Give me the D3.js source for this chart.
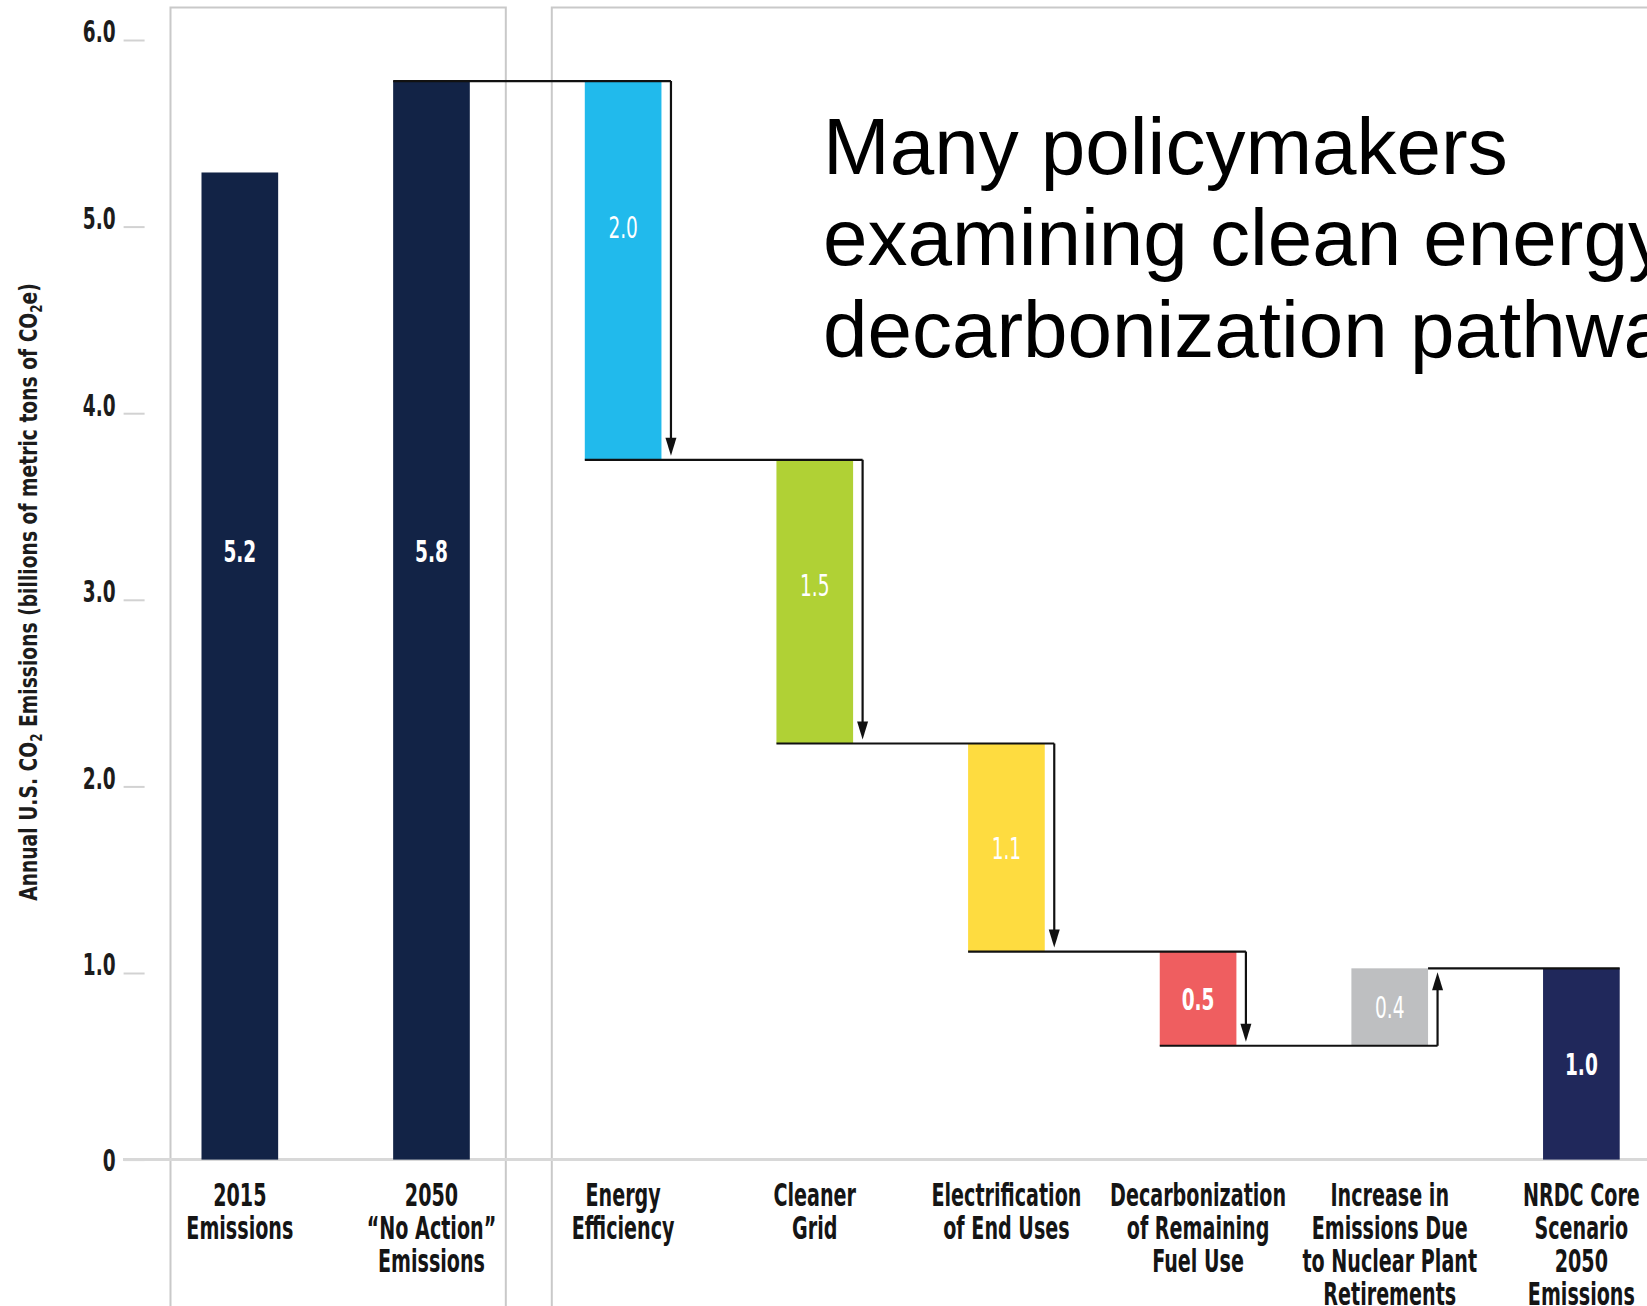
<!DOCTYPE html>
<html>
<head>
<meta charset="utf-8">
<script src="https://cdn.jsdelivr.net/npm/d3@7"></script>
<style>
  body { margin: 0; background: #fff; }
  svg { display: block; }
</style>
</head>
<body>
<svg id="chart"></svg>
<script>
// categories, one entry per bar, split into label lines
const categories = [
    ["2015", "Emissions"],
    ["2050", "\u201CNo Action\u201D", "Emissions"],
    ["Energy", "Efficiency"],
    ["Cleaner", "Grid"],
    ["Electrification", "of End Uses"],
    ["Decarbonization", "of Remaining", "Fuel Use"],
    ["Increase in", "Emissions Due", "to Nuclear Plant", "Retirements"],
    ["NRDC Core", "Scenario", "2050", "Emissions"]
];
// 2015 and 2050 "no action" totals (billions of metric tons)
const startTotals = [5.29, 5.78];
// waterfall steps starting from the 2050 total
const changes = [-2.03, -1.52, -1.115, -0.505, 0.415];
const valueLabels = ["5.2", "5.8", "2.0", "1.5", "1.1", "0.5", "0.4", "1.0"];
// where the value label sits (in data units), null = middle of the bar
const labelAt = [3.26, 3.26, 5.0, 3.08, null, null, null, null];
const yTicks = [0, 1, 2, 3, 4, 5, 6];
const yTickLabels = ["0", "1.0", "2.0", "3.0", "4.0", "5.0", "6.0"];
const noteLines = ["Many policymakers", "examining clean energy", "decarbonization pathways"];

const barColors = ["#122346", "#122346", "#21baec", "#b0d135", "#fedc40", "#ef5e60", "#bebfc1", "#20285b"];
const boldLabel = [true, true, false, false, false, true, false, true];

const width = 1647;
const height = 1306;
const condensed = "'Liberation Sans Narrow', 'DejaVu Sans Condensed', 'Liberation Sans', sans-serif";

const svg = d3.select("#chart")
    .attr("width", width)
    .attr("height", height);

// build the waterfall
const bars = [];
bars.push({i: 0, y0: 0, y1: startTotals[0]});
bars.push({i: 1, y0: 0, y1: startTotals[1]});
let level = startTotals[1];
changes.forEach((c, j) => {
    const next = level + c;
    bars.push({i: j + 2, y0: Math.min(level, next), y1: Math.max(level, next), from: level, to: next, step: true});
    level = next;
});
bars.push({i: 7, y0: 0, y1: level});

const x = d3.scaleBand()
    .domain(d3.range(categories.length))
    .range([144, 1677.2])
    .paddingInner(0.6)
    .paddingOuter(0.3);
const bw = x.bandwidth();

const y = d3.scaleLinear()
    .domain([0, 6])
    .range([1159.6, 40]);

// horizontal squeeze so the narrow font looks like the condensed gothic
const probe = svg.append("text")
    .attr("font-family", condensed)
    .attr("font-weight", "bold")
    .attr("font-size", 32)
    .text("Electrification");
const sx = 150 / probe.node().getComputedTextLength();
probe.remove();

// panels
svg.append("rect")
    .attr("x", x(0) - 31).attr("y", 7.5)
    .attr("width", x(1) + bw - x(0) + 67).attr("height", 1400)
    .attr("fill", "none").attr("stroke", "#c9c9c9").attr("stroke-width", 2);
svg.append("rect")
    .attr("x", x(2) - 33).attr("y", 7.5)
    .attr("width", x(7) + bw - x(2) + 66).attr("height", 1400)
    .attr("fill", "none").attr("stroke", "#c9c9c9").attr("stroke-width", 2);

// y axis
const yAxis = svg.append("g")
    .attr("transform", "translate(144.6,0)")
    .call(d3.axisLeft(y)
        .tickValues(yTicks)
        .tickFormat((d, i) => yTickLabels[i])
        .tickSize(21)
        .tickPadding(8));
yAxis.select(".domain").remove();
yAxis.selectAll(".tick line")
    .attr("stroke", "#d2d2d2")
    .attr("stroke-width", 2);
yAxis.selectAll(".tick text")
    .attr("font-family", condensed)
    .attr("font-weight", "bold")
    .attr("font-size", 31)
    .attr("fill", "#1c1c1c")
    .attr("transform", `scale(${sx},1)`)
    .attr("x", -29 / sx)
    .attr("dy", d => d === 0 ? "0.36em" : "0.06em");

// baseline
svg.append("line")
    .attr("x1", 123).attr("x2", width)
    .attr("y1", y(0)).attr("y2", y(0))
    .attr("stroke", "#d8d8d8")
    .attr("stroke-width", 3);

// y axis title
const yTitle = svg.append("text")
    .attr("font-family", condensed)
    .attr("font-weight", "bold")
    .attr("font-size", 25)
    .attr("fill", "#1c1c1c")
    .attr("text-anchor", "middle");
yTitle.append("tspan").text("Annual U.S. CO");
yTitle.append("tspan").attr("font-size", 16).attr("dy", 5).text("2");
yTitle.append("tspan").attr("dy", -5).text(" Emissions (billions of metric tons of CO");
yTitle.append("tspan").attr("font-size", 16).attr("dy", 5).text("2");
yTitle.append("tspan").attr("dy", -5).text("e)");
const titleSx = 618 / yTitle.node().getComputedTextLength();
yTitle.attr("transform", `translate(37,592) rotate(-90) scale(${titleSx},1)`);

// bars
svg.append("g")
    .selectAll("rect")
    .data(bars)
    .join("rect")
    .attr("x", d => x(d.i))
    .attr("width", bw)
    .attr("y", d => y(d.y1))
    .attr("height", d => y(d.y0) - y(d.y1))
    .attr("fill", d => barColors[d.i]);

// connector lines and arrows
const lines = svg.append("g")
    .attr("stroke", "#111")
    .attr("stroke-width", 2.2)
    .attr("fill", "none");
const heads = svg.append("g").attr("fill", "#111");

bars.filter(d => d.step).forEach(d => {
    const ax = x(d.i) + bw + 9.5;
    const dir = d.to < d.from ? 1 : -1;   // 1 = pointing down
    const tipY = y(d.to) - dir * 4;
    lines.append("line")
        .attr("x1", x(d.i - 1)).attr("x2", ax)
        .attr("y1", y(d.from)).attr("y2", y(d.from));
    lines.append("line")
        .attr("x1", ax).attr("x2", ax)
        .attr("y1", y(d.from)).attr("y2", tipY - dir * 10);
    heads.append("path")
        .attr("d", `M${ax},${tipY} L${ax - 5.5},${tipY - dir * 18} L${ax + 5.5},${tipY - dir * 18} Z`);
});
// level reached after the last step, running over the final total
const lastStep = bars[bars.length - 2];
lines.append("line")
    .attr("x1", x(lastStep.i) + bw).attr("x2", x(7) + bw)
    .attr("y1", y(level)).attr("y2", y(level));

// value labels
svg.append("g")
    .selectAll("text")
    .data(bars)
    .join("text")
    .attr("transform", d => {
        const v = labelAt[d.i] !== null ? labelAt[d.i] : (d.y0 + d.y1) / 2;
        return `translate(${x(d.i) + bw / 2},${y(v)}) scale(${sx},1)`;
    })
    .attr("dy", "0.36em")
    .attr("text-anchor", "middle")
    .attr("font-family", condensed)
    .attr("font-weight", d => boldLabel[d.i] ? "bold" : "normal")
    .attr("font-size", 31)
    .attr("fill", "#fff")
    .text(d => valueLabels[d.i]);

// category labels
const cats = svg.append("g")
    .selectAll("text")
    .data(categories)
    .join("text")
    .attr("transform", (d, i) => `translate(${x(i) + bw / 2},${y(0) + 46}) scale(${sx},1)`)
    .attr("text-anchor", "middle")
    .attr("font-family", condensed)
    .attr("font-weight", "bold")
    .attr("font-size", 32)
    .attr("fill", "#151515");
cats.selectAll("tspan")
    .data(d => d)
    .join("tspan")
    .attr("x", 0)
    .attr("y", (d, i) => i * 33)
    .text(d => d);

// overlaid note
svg.append("text")
    .attr("font-family", "'Liberation Sans', Arial, sans-serif")
    .attr("font-size", 80)
    .attr("fill", "#000")
    .selectAll("tspan")
    .data(noteLines)
    .join("tspan")
    .attr("x", 823)
    .attr("y", (d, i) => 173.5 + i * 91.5)
    .text(d => d);
</script>
</body>
</html>
